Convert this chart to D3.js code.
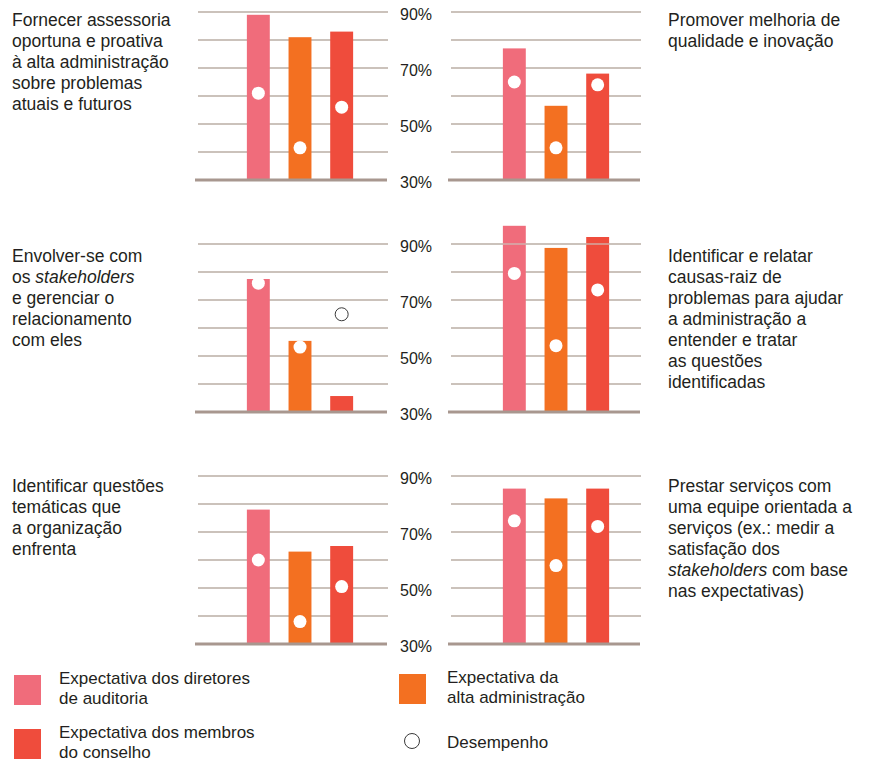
<!DOCTYPE html>
<html>
<head>
<meta charset="utf-8">
<script src="https://cdn.jsdelivr.net/npm/d3@7"></script>
<style>
  html, body { margin: 0; padding: 0; background: #fff; }
  svg { display: block; }
  text { font-family: "Liberation Sans", Arial, sans-serif; fill: #231f20; }
</style>
</head>
<body>
<svg id="chart" width="869" height="761"></svg>
<script>
// ---------------- DATA ----------------
const seriesNames = [
  "Expectativa dos diretores de auditoria",
  "Expectativa da alta administração",
  "Expectativa dos membros do conselho"
];
const legendLines = [
  ["Expectativa dos diretores", "de auditoria"],
  ["Expectativa da", "alta administração"],
  ["Expectativa dos membros", "do conselho"]
];
const performanceLabel = "Desempenho";

// panel order: row1-left, row1-right, row2-left, row2-right, row3-left, row3-right
const panelTitles = [
  ["Fornecer assessoria", "oportuna e proativa", "à alta administração", "sobre problemas", "atuais e futuros"],
  ["Promover melhoria de", "qualidade e inovação"],
  ["Envolver-se com", "os *stakeholders*", "e gerenciar o", "relacionamento", "com eles"],
  ["Identificar e relatar", "causas-raiz de", "problemas para ajudar", "a administração a", "entender e tratar", "as questões", "identificadas"],
  ["Identificar questões", "temáticas que", "a organização", "enfrenta"],
  ["Prestar serviços com", "uma equipe orientada a", "serviços (ex.: medir a", "satisfação dos", "*stakeholders* com base", "nas expectativas)"]
];

// expectation bars (%)
const expAuditDirectors = [89, 77, 77.5, 96.5, 78, 85.5];
const expSeniorMgmt     = [81, 56.5, 55.4, 88.6, 63, 82];
const expBoard          = [83, 68, 35.7, 92.5, 65, 85.5];

// performance dots (%)
const perfAuditDirectors = [61, 65, 76, 79.5, 60, 74];
const perfSeniorMgmt     = [41.5, 41.5, 53.2, 53.7, 38, 58];
const perfBoard          = [56, 64, 64.9, 73.6, 50.5, 72];

const tickValues = [30, 50, 70, 90];
const gridValues = [40, 50, 60, 70, 80, 90];
const yDomain = [30, 90];

// ---------------- STYLE / LAYOUT ----------------
const colors = ["#f06c7b", "#f37021", "#ef4c3c"];
const gridColor = "#cbc2bb";
const baseColor = "#a8978f";

const rowTops = [12, 244, 476];
const rowH = 168;
const colGridX = [198, 451];
const colBarShift = [0, 3];
const gridW = 190;
const titleX = [12, 668];
const titleBaseline = [26, 262, 492];
const titleLineH = 21;
const titleSize = 17.5;

const svg = d3.select("#chart");

panelTitles.forEach((title, pi) => {
  const row = Math.floor(pi / 2), col = pi % 2;
  const top = rowTops[row];
  const gx = colGridX[col];
  const y = d3.scaleLinear().domain(yDomain).range([top + rowH, top]);
  const x = d3.scaleBand().domain(seriesNames)
    .range([gx + colBarShift[col] + 39.5, gx + colBarShift[col] + 164.5])
    .paddingInner(0.45).paddingOuter(0.225);

  const g = svg.append("g");
  g.selectAll("line.grid").data(gridValues).join("line")
    .attr("class", "grid")
    .attr("x1", gx).attr("x2", gx + gridW)
    .attr("y1", d => y(d)).attr("y2", d => y(d))
    .attr("stroke", gridColor).attr("stroke-width", 2);

  const exps = [expAuditDirectors[pi], expSeniorMgmt[pi], expBoard[pi]];
  const perfs = [perfAuditDirectors[pi], perfSeniorMgmt[pi], perfBoard[pi]];

  g.selectAll("rect.bar").data(seriesNames).join("rect")
    .attr("class", "bar")
    .attr("x", d => x(d))
    .attr("width", x.bandwidth())
    .attr("y", (d, i) => y(exps[i]))
    .attr("height", (d, i) => y(yDomain[0]) - y(exps[i]))
    .attr("fill", (d, i) => colors[i]);

  g.append("line")
    .attr("x1", gx).attr("x2", gx + gridW)
    .attr("y1", y(90)).attr("y2", y(90))
    .attr("stroke", gridColor).attr("stroke-width", 2).attr("opacity", 0.6);

  g.append("line")
    .attr("x1", gx - 3).attr("x2", gx + gridW - 1)
    .attr("y1", y(30)).attr("y2", y(30))
    .attr("stroke", baseColor).attr("stroke-width", 3);

  g.selectAll("circle.perf").data(seriesNames).join("circle")
    .attr("class", "perf")
    .attr("cx", d => x(d) + x.bandwidth() / 2)
    .attr("cy", (d, i) => y(perfs[i]))
    .attr("r", 6.5)
    .attr("fill", "#fff")
    .attr("stroke", (d, i) => perfs[i] > exps[i] ? "#3a3a3a" : "none")
    .attr("stroke-width", 1);

  if (col === 0) {
    const axis = d3.axisRight(y).tickValues(tickValues)
      .tickFormat(d => d + "%").tickSize(0).tickPadding(0);
    const ag = svg.append("g").attr("transform", `translate(400,2)`).call(axis);
    ag.select(".domain").remove();
    ag.selectAll("text")
      .attr("font-family", "Liberation Sans, Arial, sans-serif")
      .attr("font-size", 16).attr("fill", "#231f20");
  }

  const t = svg.append("text").attr("font-size", titleSize);
  title.forEach((line, li) => {
    const parts = line.split("*");
    let first = true;
    parts.forEach((p, k) => {
      if (!p) return;
      const ts = t.append("tspan").text(p);
      if (k % 2 === 1) ts.attr("font-style", "italic");
      if (first) {
        ts.attr("x", titleX[col]).attr("y", titleBaseline[row] + li * titleLineH);
        first = false;
      }
    });
  });
});

// ---------------- LEGEND ----------------
const legendSize = 17;
const legendLineH = 19.5;
const legendItems = [
  { lines: legendLines[0], color: colors[0], sx: 14, sy: 675, tx: 59, ty: 684 },
  { lines: legendLines[1], color: colors[1], sx: 399, sy: 674, tx: 447, ty: 683 },
  { lines: legendLines[2], color: colors[2], sx: 14, sy: 729, tx: 59, ty: 738 }
];
const lg = svg.append("g");
legendItems.forEach(it => {
  lg.append("rect").attr("x", it.sx).attr("y", it.sy)
    .attr("width", 27).attr("height", 30).attr("fill", it.color);
  const t = lg.append("text").attr("font-size", legendSize);
  it.lines.forEach((l, i) => {
    t.append("tspan").attr("x", it.tx).attr("y", it.ty + i * legendLineH).text(l);
  });
});
lg.append("circle").attr("cx", 412).attr("cy", 741).attr("r", 7.5)
  .attr("fill", "#fff").attr("stroke", "#3a3a3a").attr("stroke-width", 1);
lg.append("text").attr("font-size", legendSize).attr("x", 447).attr("y", 748)
  .text(performanceLabel);
</script>
</body>
</html>
